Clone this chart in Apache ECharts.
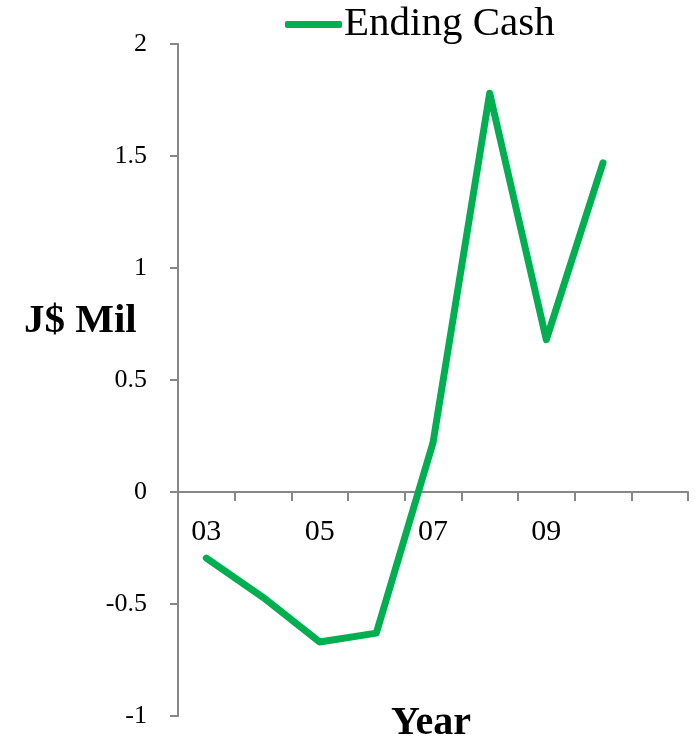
<!DOCTYPE html>
<html>
<head>
<meta charset="utf-8">
<script src="https://cdn.jsdelivr.net/npm/echarts@6/dist/echarts.min.js"></script>
<style>
  html, body { margin: 0; padding: 0; background: #fff; }
  #chart { width: 695px; height: 744px; }
</style>
</head>
<body>
<div id="chart"></div>
<script>
// Year categories (last slot left blank, as on the axis)
const years = ['03', '04', '05', '06', '07', '08', '09', '10', ''];
// Ending cash, J$ millions
const endingCash = [-0.295, -0.47, -0.67, -0.63, 0.22, 1.78, 0.68, 1.47];
const yTicks = { min: -1, max: 2, interval: 0.5 };

const serif = '"Liberation Serif", "DejaVu Serif", serif';
const axisGrey = '#878787';
const green = '#00B050';

const W = 695, H = 744;
const grid = { left: 178, right: 7, top: 44, bottom: 28 };
// The category axis sits on the zero line: lift it from the grid's bottom edge
// by the share of the value range that lies below zero.
const plotHeight = H - grid.top - grid.bottom;
const zeroLift = (0 - yTicks.min) / (yTicks.max - yTicks.min) * plotHeight;

const chart = echarts.init(document.getElementById('chart'));
chart.setOption({
  backgroundColor: '#ffffff',
  animation: false,
  textStyle: { fontFamily: serif },
  grid: Object.assign({ containLabel: false, outerBoundsMode: 'none' }, grid),
  legend: {
    data: ['Ending Cash'],
    left: 285,
    top: 4,
    padding: 0,
    icon: 'roundRect',
    itemWidth: 57,
    itemHeight: 7,
    itemGap: 4,
    textStyle: { fontFamily: serif, fontSize: 41, color: '#000', padding: [0, 0, 0, -3] }
  },
  xAxis: {
    type: 'category',
    data: years,
    boundaryGap: true,
    position: 'bottom',
    offset: -zeroLift,
    axisLine: { onZero: false, lineStyle: { color: axisGrey, width: 2 } },
    axisTick: { show: true, interval: 0, length: 9, lineStyle: { color: axisGrey, width: 2 } },
    axisLabel: { interval: 1, fontFamily: serif, fontSize: 30, color: '#000', margin: 25 },
    splitLine: { show: false }
  },
  yAxis: {
    type: 'value',
    min: yTicks.min,
    max: yTicks.max,
    interval: yTicks.interval,
    axisLine: { show: true, lineStyle: { color: axisGrey, width: 2 } },
    axisTick: { show: true, length: 8, lineStyle: { color: axisGrey, width: 2 } },
    axisLabel: { fontFamily: serif, fontSize: 26, color: '#000', margin: 31 },
    splitLine: { show: false }
  },
  graphic: [
    {
      type: 'text',
      left: 24,
      top: 301,
      style: { text: 'J$ Mil', font: 'bold 41px ' + serif, fill: '#000' }
    },
    {
      type: 'text',
      left: 391,
      top: 704,
      style: { text: 'Year', font: 'bold 40px ' + serif, fill: '#000' }
    }
  ],
  series: [{
    name: 'Ending Cash',
    type: 'line',
    data: endingCash,
    symbol: 'none',
    itemStyle: { color: green },
    lineStyle: { color: green, width: 7, cap: 'round', join: 'round' }
  }]
});
</script>
</body>
</html>
